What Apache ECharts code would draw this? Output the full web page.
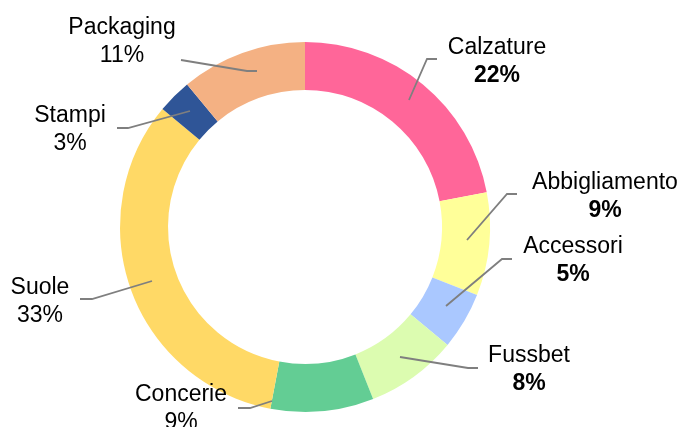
<!DOCTYPE html>
<html>
<head>
<meta charset="utf-8">
<script src="https://cdn.jsdelivr.net/npm/echarts@6/dist/echarts.min.js"></script>
<style>
  html, body { margin: 0; padding: 0; background: #ffffff; }
  #chart { width: 684px; height: 427px; }
</style>
</head>
<body>
<div id="chart"></div>
<script>
// Share of each segment (percent)
var categories = ['Calzature', 'Abbigliamento', 'Accessori', 'Fussbet', 'Concerie', 'Suole', 'Stampi', 'Packaging'];
var shares = [22, 9, 5, 8, 9, 33, 3, 11];
var colors = ['#FF6699', '#FFFF99', '#AAC8FF', '#DCFCB0', '#63CD94', '#FFD966', '#2F5597', '#F4B183'];

// Label placement: text block centre and leader polyline (start, elbow, end)
var labelCentres = [[497, 62], [605, 197], [573, 261], [529, 370], [181, 409], [40, 302], [70, 130], [122, 42]];
var leaderLines = [
  [[409, 100], [427, 59], [437, 59]],
  [[467, 240], [507, 194], [517, 194]],
  [[446, 306], [502, 259], [512, 259]],
  [[400, 357], [468, 368], [478, 368]],
  [[272, 401], [250, 408], [238, 408]],
  [[152, 281], [92, 299], [80, 299]],
  [[190, 111], [128, 128], [117, 128]],
  [[257, 71], [247, 71], [181, 60]]
];
var boldPercent = [true, true, true, true, false, false, false, false];

var chart = echarts.init(document.getElementById('chart'));

var ringData = categories.map(function (name, i) {
  return { name: name, value: shares[i], itemStyle: { color: colors[i] } };
});

// Same slices again, transparent, so labels and leader lines sit above the ring
var labelData = categories.map(function (name, i) {
  return {
    name: name,
    value: shares[i],
    label: {
      formatter: '{n|' + name + '}\n{' + (boldPercent[i] ? 'pb' : 'pn') + '|' + shares[i] + '%}'
    }
  };
});

var ring = {
  type: 'pie',
  center: [305, 227],
  radius: [137, 185],
  startAngle: 90,
  clockwise: true,
  avoidLabelOverlap: false
};

chart.setOption({
  animation: false,
  backgroundColor: '#ffffff',
  series: [
    Object.assign({}, ring, {
      z: 2,
      silent: true,
      itemStyle: { borderWidth: 0 },
      label: { show: false },
      labelLine: { show: false },
      data: ringData
    }),
    Object.assign({}, ring, {
      z: 5,
      silent: true,
      itemStyle: { color: 'rgba(0,0,0,0)', borderWidth: 0 },
      label: {
        show: true,
        position: 'outside',
        align: 'center',
        fontFamily: 'Liberation Sans, Arial, sans-serif',
        rich: {
          n: { fontSize: 23, lineHeight: 28, color: '#000000', fontFamily: 'Liberation Sans', align: 'center' },
          pb: { fontSize: 23, lineHeight: 28, color: '#000000', fontWeight: 'bold', fontFamily: 'Liberation Sans', align: 'center' },
          pn: { fontSize: 23, lineHeight: 28, color: '#000000', fontFamily: 'Liberation Sans', align: 'center' }
        }
      },
      labelLine: {
        show: true,
        length: 10,
        length2: 10,
        lineStyle: { color: '#7F7F7F', width: 1.8 }
      },
      labelLayout: function (params) {
        var i = params.dataIndex;
        return {
          x: labelCentres[i][0],
          y: labelCentres[i][1],
          align: 'center',
          verticalAlign: 'middle',
          labelLinePoints: leaderLines[i]
        };
      },
      data: labelData
    })
  ]
});
</script>
</body>
</html>
